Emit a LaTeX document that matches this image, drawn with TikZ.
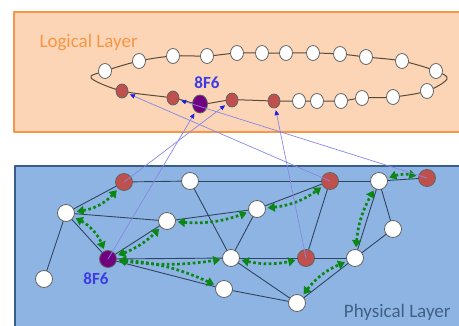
\documentclass[tikz,border=0pt]{standalone}
\usepackage{fontspec}
\setmainfont{Carlito}
\usetikzlibrary{arrows.meta,shapes.geometric}

\definecolor{peach}{RGB}{251,213,181}
\definecolor{orangeline}{RGB}{247,150,70}
\definecolor{skyfill}{RGB}{142,180,227}
\definecolor{navyline}{RGB}{56,93,138}
\definecolor{edgeline}{RGB}{47,69,96}
\definecolor{ringline}{RGB}{90,74,58}
\definecolor{nodered}{RGB}{192,80,77}
\definecolor{nodepurple}{RGB}{112,0,128}
\definecolor{nodeborder}{RGB}{100,100,100}
\definecolor{linkgreen}{RGB}{10,135,20}
\definecolor{mapblue}{RGB}{135,135,230}
\definecolor{tipblue}{RGB}{30,30,230}
\definecolor{labelblue}{RGB}{60,60,230}
\definecolor{physlabel}{RGB}{63,97,132}

\begin{document}
\begin{tikzpicture}[line cap=round,line join=round,x=1pt,y=-1pt,
  lnode/.style={ellipse,draw=nodeborder,line width=0.8pt,fill=white,minimum width=13pt,minimum height=15pt,inner sep=0pt},
  lred/.style={lnode,fill=nodered,minimum width=12pt,minimum height=14pt},
  lpurple/.style={lnode,fill=nodepurple,minimum width=15pt,minimum height=18pt},
  pnode/.style={circle,draw=nodeborder,line width=0.8pt,fill=white,minimum size=17pt,inner sep=0pt},
  pred/.style={pnode,fill=nodered},
  ppurple/.style={pnode,fill=nodepurple},
  wire/.style={edgeline,line width=0.9pt},
  glink/.style={linkgreen,line width=2.7pt,line cap=butt,dash pattern=on 2.7pt off 2.5pt,
    {Triangle[length=7pt,width=9pt]}-{Triangle[length=7pt,width=9pt]},shorten <=2pt,shorten >=2pt},
  maplink/.style={mapblue,line width=0.7pt,-{Triangle[length=5pt,width=4.5pt,color=tipblue]},shorten >=2pt},
  idlabel/.style={labelblue,font=\fontsize{17}{17}\selectfont\bfseries}]
\useasboundingbox (0,0) rectangle (459,325);
\clip (0,0) rectangle (459,325);

% layers
\draw[fill=peach,draw=orangeline,line width=2pt] (14,12) rectangle (470,132);
\draw[fill=skyfill,draw=navyline,line width=2pt] (15,166) rectangle (470,340);
\node[orangeline,font=\fontsize{19}{19}\selectfont,anchor=west] (logtitle) at (36,43) {Logical Layer};
\node[physlabel,font=\fontsize{19}{19}\selectfont,anchor=east] (phytitle) at (454,312) {Physical Layer};

% logical ring
\draw[ringline,line width=1pt] plot[smooth cycle,tension=0.55] coordinates {(91,78) (105,71) (139,61) (173,56) (207,56) (237,53) (262,53) (286,53) (313,53) (340,54) (366,57) (402,61) (436,71) (447,79) (427,91) (393,97) (362,98) (341,101) (317,101) (299,101) (274,101) (232,100) (200,104) (173,98) (122,91)};
\node[lnode] (lt1) at (105,71) {};
\node[lnode] (lt2) at (139,61) {};
\node[lnode] (lt3) at (173,56) {};
\node[lnode] (lt4) at (207,56) {};
\node[lnode] (lt5) at (237,53) {};
\node[lnode] (lt6) at (262,53) {};
\node[lnode] (lt7) at (286,53) {};
\node[lnode] (lt8) at (313,53) {};
\node[lnode] (lt9) at (340,54) {};
\node[lnode] (lt10) at (366,57) {};
\node[lnode] (lt11) at (402,61) {};
\node[lnode] (lt12) at (436,71) {};
\node[lnode] (lb1) at (427,91) {};
\node[lnode] (lb2) at (393,97) {};
\node[lnode] (lb3) at (362,98) {};
\node[lnode] (lb4) at (341,101) {};
\node[lnode] (lb5) at (317,101) {};
\node[lnode] (lb6) at (299,101) {};
\node[lred] (lr1) at (122,91) {};
\node[lred] (lr2) at (173,98) {};
\node[lpurple] (lself) at (200,104) {};
\node[lred] (lr3) at (232,100) {};
\node[lred] (lr4) at (274,101) {};
\node[idlabel] (lselflabel) at (207,83) {8F6};

% physical nodes
\node[pred] (pa) at (124,182) {};
\node[pnode] (pb) at (190,181) {};
\node[pnode] (pc) at (66,213) {};
\node[pnode] (pd) at (167,221) {};
\node[ppurple] (pe) at (108,259) {};
\node[pnode] (pf) at (44,279) {};
\node[pnode] (pg) at (231,258) {};
\node[pnode] (ph) at (224,289) {};
\node[pnode] (pi) at (257,209) {};
\node[pred] (pj) at (330,181) {};
\node[pnode] (pk) at (379,181) {};
\node[pred] (pl) at (427,178) {};
\node[pnode] (pm) at (393,229) {};
\node[pred] (pn) at (306,258) {};
\node[pnode] (po) at (355,258) {};
\node[pnode] (pp) at (297,303) {};
\node[idlabel] (pselflabel) at (96,279) {8F6};

% physical edges
\draw[wire] (pc) -- (pa);
\draw[wire] (pa) -- (pb);
\draw[wire] (pb) -- (pj);
\draw[wire] (pj) -- (pk);
\draw[wire] (pk) -- (pl);
\draw[wire] (pc) -- (pd);
\draw[wire] (pc) -- (pe);
\draw[wire] (pc) -- (pf);
\draw[wire] (pd) -- (pe);
\draw[wire] (pe) -- (pg);
\draw[wire] (pe) -- (ph);
\draw[wire] (pb) -- (pg);
\draw[wire] (pd) -- (pi);
\draw[wire] (pi) -- (pj);
\draw[wire] (pi) -- (pg);
\draw[wire] (pg) -- (pn);
\draw[wire] (pg) -- (pp);
\draw[wire] (ph) -- (pp);
\draw[wire] (pj) -- (pn);
\draw[wire] (pn) -- (po);
\draw[wire] (po) -- (pp);
\draw[wire] (po) -- (pk);
\draw[wire] (po) -- (pm);
\draw[wire] (pm) -- (pk);

% neighbour links
\draw[glink] (pc) to[bend right=20] (pa);
\draw[glink] (pc) to[bend left=20] (pe);
\draw[glink] (pe) to[bend right=12] (pd);
\draw[glink] (pe) to[bend right=8] (pg);
\draw[glink] (pe) to[bend left=10] (ph);
\draw[glink] (pd) to[bend right=12] (pi);
\draw[glink] (pi) to[bend right=15] (pj);
\draw[glink] (pg) to[bend right=12] (pn);
\draw[glink] (pp) to[bend left=15] (po);
\draw[glink] (po) to[bend left=12] (pk);
\draw[glink] (pk) to[bend left=15] (pl);

% mapping to the ring
\draw[maplink] (pa.center) -- (lr3);
\draw[maplink] (pe.center) -- (lself);
\draw[maplink] (pj.center) -- (lr1);
\draw[maplink] (pl.center) -- (lr2);
\draw[maplink] (pn.center) -- (lr4);
\end{tikzpicture}
\end{document}
